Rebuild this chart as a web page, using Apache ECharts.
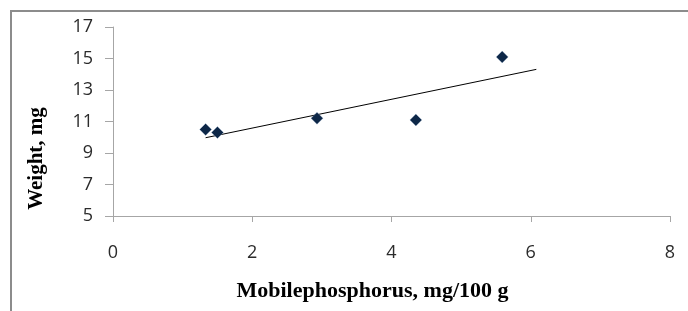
<!DOCTYPE html>
<html>
<head>
<meta charset="utf-8">
<script src="https://cdn.jsdelivr.net/npm/echarts@6/dist/echarts.min.js"></script>
<style>
  html, body { margin: 0; padding: 0; background: #fff; }
  #chart { width: 688px; height: 311px; }
</style>
</head>
<body>
<div id="chart"></div>
<script>
  // measured points
  const phosphorus = [1.33, 1.5, 2.93, 4.35, 5.59]
  const weight = [10.5, 10.3, 11.2, 11.1, 15.1]
  // trendline ends
  const trendX = [1.33, 6.08]
  const trendY = [9.97, 14.31]

  const xTicks = [0, 2, 4, 6, 8]
  const yTicks = [5, 7, 9, 11, 13, 15, 17]

  const axisColor = '#a6a6a6'
  const tickFont = { color: '#2b2b2b', fontSize: 18, fontFamily: 'Open Sans' }
  const titleFont = { color: '#000', fontWeight: 'bold', fontFamily: 'Liberation Serif' }

  const chart = echarts.init(document.getElementById('chart'))
  chart.setOption({
    animation: false,
    grid: { left: 113, top: 27, width: 557, height: 189, containLabel: false },
    graphic: [
      {
        type: 'polyline',
        shape: { points: [[11, 320], [11, 11], [700, 11]] },
        style: { stroke: '#8c8c8c', lineWidth: 2, fill: null },
      },
    ],
    xAxis: {
      type: 'value',
      min: xTicks[0],
      max: xTicks[xTicks.length - 1],
      interval: 2,
      name: 'Mobilephosphorus, mg/100 g',
      nameLocation: 'middle',
      nameGap: 64,
      // title sits a little left of the axis centre
      nameTextStyle: { ...titleFont, fontSize: 22, padding: [0, 38, 0, 0] },
      splitLine: { show: false },
      axisLine: { lineStyle: { color: axisColor } },
      axisTick: { length: 6, lineStyle: { color: axisColor } },
      axisLabel: { ...tickFont, margin: 28 },
    },
    yAxis: {
      type: 'value',
      min: yTicks[0],
      max: yTicks[yTicks.length - 1],
      interval: 2,
      name: 'Weight, mg',
      nameLocation: 'middle',
      nameGap: 66,
      nameRotate: 90,
      // pushed down below the axis centre like the original
      nameTextStyle: { ...titleFont, fontSize: 21, padding: [0, 74, 0, 0] },
      splitLine: { show: false },
      axisLine: { show: true, lineStyle: { color: axisColor } },
      axisTick: { show: true, length: 8, lineStyle: { color: axisColor } },
      axisLabel: { ...tickFont, margin: 20 },
    },
    series: [
      {
        type: 'line',
        data: trendX.map((x, i) => [x, trendY[i]]),
        symbol: 'none',
        lineStyle: { color: '#000', width: 1 },
        z: 2,
      },
      {
        type: 'scatter',
        data: phosphorus.map((x, i) => [x, weight[i]]),
        symbol: 'diamond',
        symbolSize: 12,
        itemStyle: { color: '#0d2747', borderColor: '#a9c2e0', borderWidth: 0.3, opacity: 1 },
        z: 3,
      },
    ],
  })
</script>
</body>
</html>
